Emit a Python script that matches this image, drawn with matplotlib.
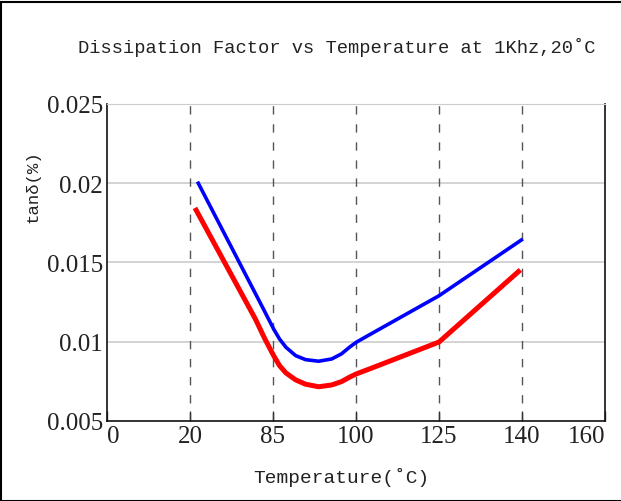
import matplotlib
matplotlib.use("Agg")
import matplotlib.pyplot as plt
from matplotlib.patches import Rectangle

# x axis is categorical: evenly spaced temperature labels
temp_labels = ["0", "20", "85", "100", "125", "140", "160"]

# curve points, x given in category position units (0 = "0", 1 = "20", ...)
blue_x = [1.09, 1.884, 2.008, 2.079, 2.156, 2.274, 2.392, 2.549, 2.706, 2.824, 2.921, 3.004, 3.166, 4.0, 5.01]
blue_y = [0.0201, 0.01207, 0.0108, 0.01017, 0.00965, 0.00912, 0.00887, 0.00877, 0.00891, 0.00923, 0.00965,
          0.00997, 0.01045, 0.0129, 0.01648]

red_x = [1.06, 1.787, 1.903, 2.008, 2.079, 2.156, 2.274, 2.392, 2.549, 2.706, 2.824, 2.921, 3.004, 3.166, 4.0, 4.98]
red_y = [0.01844, 0.01144, 0.01017, 0.00912, 0.00849, 0.00803, 0.00759, 0.00732, 0.00716, 0.00727, 0.00748,
         0.00776, 0.00797, 0.00829, 0.00998, 0.01453]

y_ticks = [0.005, 0.01, 0.015, 0.02, 0.025]
y_labels = ["0.005", "0.01", "0.015", "0.02", "0.025"]

fig = plt.figure(figsize=(6.21, 5.02), dpi=100)
ax = fig.add_axes([0.1723, 0.1594, 0.8019, 0.6315])

ax.set_xlim(0, len(temp_labels) - 1)
ax.set_ylim(0.005, 0.025)

for yv in y_ticks[1:]:
    ax.axhline(yv, color="#cccccc", lw=1.2, zorder=1)
for xv in range(1, len(temp_labels) - 1):
    ax.axvline(xv, color="#555555", lw=1.0, dashes=(6, 7), zorder=1)

ax.plot(blue_x, blue_y, color="#0000ff", lw=2.6, solid_capstyle="butt", solid_joinstyle="round", zorder=3)
ax.plot(red_x, red_y, color="#ff0000", lw=3.6, solid_capstyle="butt", solid_joinstyle="round", zorder=3)

ax.set_xticks(range(len(temp_labels)))
ax.set_xticklabels(temp_labels, fontfamily="Liberation Serif", fontsize=18, color="#222222")
ticklabels = ax.get_xticklabels()
ticklabels[0].set_horizontalalignment("left")
ticklabels[-1].set_horizontalalignment("right")
ax.set_yticks(y_ticks)
ax.set_yticklabels(y_labels, fontfamily="Liberation Serif", fontsize=18, color="#222222")
ax.tick_params(axis="x", direction="in", length=7, width=1, color="#333333", pad=3)
ax.tick_params(axis="y", length=0, pad=3)

ax.spines["top"].set_color("#cccccc")
for s in ["left", "bottom", "right"]:
    ax.spines[s].set_color("#111111")
    ax.spines[s].set_linewidth(1.2)

fig.text(0.549, 0.048, "Temperature(˚C)", fontfamily="Liberation Mono", fontsize=14,
         color="#222222", ha="center", va="center")
fig.text(0.053, 0.629, "tanδ(%)", fontfamily="Liberation Mono", fontsize=12.5,
         color="#222222", ha="center", va="center", rotation=90)
fig.text(0.543, 0.905, "Dissipation Factor vs Temperature at 1Khz,20˚C",
         fontfamily="Liberation Mono", fontsize=13.5, color="#222222", ha="center", va="center")

fig.patches.append(Rectangle((0.002, 0.0), 1.2, 0.995, transform=fig.transFigure,
                             fill=False, edgecolor="black", lw=1.5))

fig.savefig("out.png", dpi=100)
